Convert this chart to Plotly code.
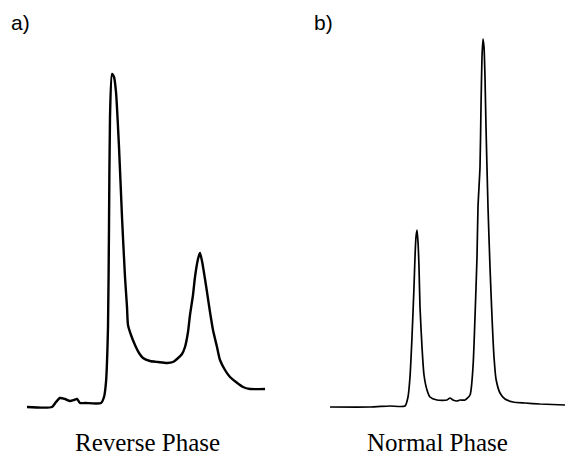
import plotly.graph_objects as go

# Panel a) Reverse Phase: retention position and detector signal (read from picture)
rp_time = [27, 52, 56, 60, 65, 70, 74, 77, 80, 85, 101, 104, 106, 108, 109, 110, 112, 114, 116,
           119, 122, 125, 127, 128, 131, 135, 139, 143, 150, 158, 167, 173, 177, 182, 185, 188,
           190, 193, 195, 198, 200, 202, 205, 207, 210, 213, 217, 220, 225, 230, 236, 243, 250, 265]
rp_signal = [0, 0, 5, 9, 8, 6, 7, 8, 4, 4, 4, 10, 25, 80, 180, 290, 333, 330, 315,
             260, 190, 130, 100, 82, 72, 62, 54, 49, 46, 45, 44, 45, 48, 53, 60, 75,
             92, 112, 130, 148, 154, 146, 128, 115, 95, 77, 60, 47, 37, 30, 25, 20, 18, 18]

# Panel b) Normal Phase
np_time = [50, 90, 110, 125, 128, 130, 132, 134, 135, 136, 137, 138, 139, 140, 142, 144, 147,
           150, 157, 167, 170, 173, 177, 180, 185, 190, 193, 195, 197, 198, 200, 201, 202, 203,
           204, 205, 206, 208, 210, 212, 214, 216, 220, 225, 233, 245, 260, 285]
np_signal = [0, 0, 1, 1, 10, 30, 70, 120, 150, 170, 177, 165, 140, 100, 60, 32, 17,
             10, 7, 7, 9, 7, 6, 7, 7, 12, 40, 90, 150, 200, 240, 300, 350, 368,
             360, 330, 280, 200, 140, 90, 50, 28, 14, 8, 5, 4, 3, 2]

panel_labels = ["a)", "b)"]
panel_titles = ["Reverse Phase", "Normal Phase"]

fig = go.Figure()
fig.add_trace(go.Scatter(x=rp_time, y=rp_signal, mode="lines",
                         line=dict(color="black", width=2.4, shape="spline", smoothing=0.6),
                         xaxis="x", yaxis="y", showlegend=False, hoverinfo="skip"))
fig.add_trace(go.Scatter(x=np_time, y=np_signal, mode="lines",
                         line=dict(color="black", width=1.7, shape="spline", smoothing=0.6),
                         xaxis="x2", yaxis="y", showlegend=False, hoverinfo="skip"))

W, H = 567, 456
ax = dict(visible=False, showgrid=False, zeroline=False, fixedrange=True)


def ann(text, px, py, anchor, family, size):
    return dict(text=text, x=px / W, y=1 - py / H, xref="paper", yref="paper",
                showarrow=False, xanchor=anchor, yanchor="middle",
                font=dict(family=family, size=size, color="black"))


fig.update_layout(
    width=W, height=H,
    margin=dict(l=0, r=0, t=0, b=0),
    paper_bgcolor="white", plot_bgcolor="white",
    xaxis=dict(domain=[0, 280 / W], range=[0, 280], **ax),
    xaxis2=dict(domain=[280 / W, 1], range=[0, 287], **ax),
    yaxis=dict(range=[-49, 407], **ax),
    annotations=[
        ann(panel_labels[0], 9, 22, "left", "Liberation Sans, Arial", 21),
        ann(panel_labels[1], 312, 22, "left", "Liberation Sans, Arial", 21),
        ann(panel_titles[0], 147, 442, "center", "Liberation Serif, Times New Roman", 25),
        ann(panel_titles[1], 437, 442, "center", "Liberation Serif, Times New Roman", 25),
    ],
)

fig.write_html("out.html", config={"staticPlot": True},
               post_script="document.body.style.margin='0';document.body.style.overflow='hidden';")
